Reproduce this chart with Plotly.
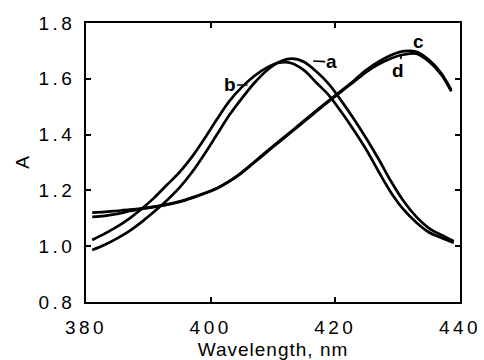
import plotly.graph_objects as go

# ---- data ----
wavelength_ab = [381, 383, 385, 387, 389, 391, 393, 395, 397, 399, 401, 403, 405, 407, 409,
                 411, 413, 415, 417, 419, 421, 423, 425, 427, 429, 431, 433, 435, 437, 439]
absorb_a = [0.986, 1.005, 1.028, 1.055, 1.088, 1.125, 1.165, 1.21, 1.265, 1.33, 1.40, 1.47,
            1.53, 1.585, 1.63, 1.66, 1.672, 1.66, 1.625, 1.58, 1.52, 1.455, 1.385, 1.31,
            1.23, 1.16, 1.105, 1.065, 1.04, 1.018]
absorb_b = [1.022, 1.045, 1.07, 1.10, 1.135, 1.175, 1.22, 1.265, 1.32, 1.385, 1.455, 1.52,
            1.57, 1.61, 1.64, 1.658, 1.656, 1.63, 1.585, 1.54, 1.48, 1.415, 1.345, 1.265,
            1.19, 1.13, 1.085, 1.05, 1.03, 1.012]

wavelength_cd = [381, 383, 385, 387, 389, 391, 393, 395, 397, 399, 401, 403, 405, 407, 409,
                 411, 413, 415, 417, 419, 421, 423, 425, 427, 429, 431, 433, 435, 437, 438.6]
absorb_c = [1.12, 1.123, 1.127, 1.131, 1.136, 1.142, 1.15, 1.16, 1.174, 1.19, 1.208, 1.233,
            1.265, 1.302, 1.34, 1.377, 1.413, 1.45, 1.487, 1.523, 1.558, 1.594, 1.632, 1.662,
            1.685, 1.699, 1.697, 1.668, 1.62, 1.56]
absorb_d = [1.105, 1.109, 1.116, 1.126, 1.134, 1.141, 1.149, 1.159, 1.173, 1.189, 1.207, 1.232,
            1.263, 1.3, 1.337, 1.374, 1.41, 1.447, 1.484, 1.52, 1.555, 1.59, 1.625, 1.653,
            1.674, 1.687, 1.69, 1.662, 1.615, 1.555]

x_ticks = [380, 400, 420, 440]
y_ticks = [0.8, 1.0, 1.2, 1.4, 1.6, 1.8]

# label anchor points (on the curves) and text offsets in px
labels = ["a", "b", "c", "d"]
label_x = [416.45, 405.9, 433.2, 430.6]
label_y = [1.664, 1.578, 1.696, 1.685]
label_ax = [18, -17, 1, -3]
label_ay = [1, 0, -11, 15]

FONT = "Liberation Sans"

fig = go.Figure()
for xs, ys in [(wavelength_ab, absorb_a), (wavelength_ab, absorb_b),
               (wavelength_cd, absorb_c), (wavelength_cd, absorb_d)]:
    fig.add_trace(go.Scatter(x=xs, y=ys, mode="lines",
                             line=dict(color="black", width=2.7, shape="spline", smoothing=0.9),
                             showlegend=False, hoverinfo="skip"))

for t, x, y, ax, ay in zip(labels, label_x, label_y, label_ax, label_ay):
    fig.add_annotation(x=x, y=y, text="<b>%s</b>" % t, showarrow=True, arrowhead=0,
                       arrowwidth=1.6, arrowcolor="black", ax=ax, ay=ay, standoff=0,
                       startstandoff=0, borderpad=0,
                       font=dict(family="Liberation Sans", size=19, color="black"))

axis_common = dict(showline=True, linecolor="black", linewidth=1.6, mirror="ticks",
                   ticks="inside", ticklen=5, tickwidth=1.5, tickcolor="black",
                   showgrid=False, zeroline=False, automargin=False,
                   tickfont=dict(family=FONT, size=19, color="black"))

fig.update_layout(
    width=484, height=360,
    margin=dict(l=86, r=24, t=23, b=58),
    paper_bgcolor="white", plot_bgcolor="white",
    xaxis=dict(range=[380, 440], tickvals=x_ticks, ticklabelstandoff=7,
               title=dict(text="Wavelength, nm", font=dict(family=FONT, size=19, color="black"),
                          standoff=6),
               **axis_common),
    yaxis=dict(range=[0.8, 1.8], tickvals=y_ticks, tickformat=".1f", ticklabelstandoff=5,
               title=dict(text="A", font=dict(family=FONT, size=19, color="black"), standoff=14),
               **axis_common),
)

post = """
document.body.style.margin = '0';
document.body.style.padding = '0';
var gd = document.getElementById('{plot_id}');
gd.querySelectorAll('g.xtick text, g.ytick text').forEach(function(e){e.style.letterSpacing='3.5px';});
gd.querySelectorAll('text.xtitle').forEach(function(e){e.style.letterSpacing='1px';});
"""
fig.write_html("out.html", post_script=post, config={"displayModeBar": False})
